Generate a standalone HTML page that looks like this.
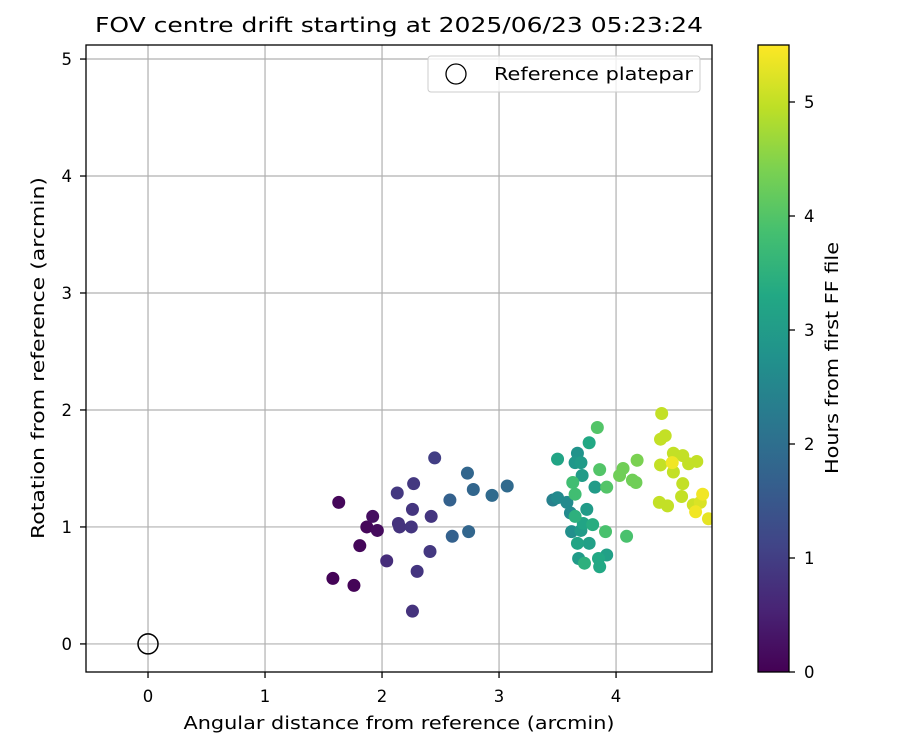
<!DOCTYPE html>
<html><head><meta charset="utf-8"><style>
body{margin:0;background:#fff;font-family:"Liberation Sans","DejaVu Sans",sans-serif;}
svg text{font-family:"DejaVu Sans","Liberation Sans",sans-serif;fill:#000;}
</style></head><body>
<svg id="chart" width="900" height="750" viewBox="0 0 900 750" xmlns="http://www.w3.org/2000/svg">
<defs>
<linearGradient id="vir" x1="0" y1="1" x2="0" y2="0">
<stop offset="0" stop-color="#440154"/><stop offset="0.1" stop-color="#482475"/><stop offset="0.2" stop-color="#414487"/><stop offset="0.3" stop-color="#355f8d"/><stop offset="0.4" stop-color="#2a788e"/><stop offset="0.5" stop-color="#21918c"/><stop offset="0.6" stop-color="#22a884"/><stop offset="0.7" stop-color="#44bf70"/><stop offset="0.8" stop-color="#7ad151"/><stop offset="0.9" stop-color="#bddf26"/><stop offset="1" stop-color="#fde725"/>
</linearGradient>
<clipPath id="plotclip"><rect x="86" y="45" width="626" height="627"/></clipPath>
</defs>
<text x="399" y="32" font-size="20.5" text-anchor="middle" textLength="608" lengthAdjust="spacingAndGlyphs">FOV centre drift starting at 2025/06/23 05:23:24</text>
<g id="grid"></g>
<g id="points" clip-path="url(#plotclip)"></g>
<rect x="86" y="45" width="626" height="627" fill="none" stroke="#000" stroke-width="1.3"/>
<g id="ticks"></g>
<text x="399" y="729" font-size="17.5" text-anchor="middle" textLength="431" lengthAdjust="spacingAndGlyphs">Angular distance from reference (arcmin)</text>
<text transform="translate(44,358) rotate(-90)" font-size="17.5" text-anchor="middle" textLength="362" lengthAdjust="spacingAndGlyphs">Rotation from reference (arcmin)</text>
<g>
<rect x="428" y="56" width="272" height="36" rx="3" fill="#fff" fill-opacity="0.8" stroke="#ccc"/>
<circle cx="456" cy="74" r="10" fill="none" stroke="#000" stroke-width="1.3"/>
<text x="494" y="80" font-size="17.5" textLength="199" lengthAdjust="spacingAndGlyphs">Reference platepar</text>
</g>
<rect x="758" y="45" width="31" height="627" fill="url(#vir)" stroke="#000" stroke-width="1.3"/>
<g id="cbticks"></g>
<text transform="translate(838,358) rotate(-90)" font-size="17.5" text-anchor="middle" textLength="232" lengthAdjust="spacingAndGlyphs">Hours from first FF file</text>
</svg>
<script>
const xs=[1.63,1.92,1.87,1.96,1.81,1.58,1.76,2.04,2.13,2.27,2.26,2.14,2.15,2.25,2.42,2.41,2.30,2.26,2.45,2.73,2.78,2.58,2.94,3.07,2.60,2.74,
4.39,3.84,3.77,4.42,4.38,3.50,3.67,3.65,3.70,3.71,3.86,4.06,4.03,4.18,4.14,4.17,3.63,3.65,3.82,3.92,4.49,4.57,4.69,4.62,4.48,4.38,4.49,4.57,4.56,4.74,4.37,4.44,4.66,4.72,4.68,4.79,3.46,3.50,3.58,3.61,3.75,3.65,3.72,3.80,3.62,3.70,3.91,4.09,3.67,3.77,3.68,3.73,3.92,3.85,3.86];
const ys=[1.21,1.09,1.00,0.97,0.84,0.56,0.50,0.71,1.29,1.37,1.15,1.03,1.00,1.00,1.09,0.79,0.62,0.28,1.59,1.46,1.32,1.23,1.27,1.35,0.92,0.96,
1.97,1.85,1.72,1.78,1.75,1.58,1.63,1.55,1.55,1.44,1.49,1.50,1.44,1.57,1.40,1.38,1.38,1.28,1.34,1.34,1.63,1.61,1.56,1.54,1.55,1.53,1.47,1.37,1.26,1.28,1.21,1.18,1.19,1.21,1.13,1.07,1.23,1.25,1.21,1.12,1.15,1.09,1.03,1.02,0.96,0.97,0.96,0.92,0.86,0.86,0.73,0.69,0.76,0.73,0.66];
const hours=[0.1,0.2,0.1,0.15,0.1,0.05,0.05,0.7,0.9,0.9,0.85,0.8,0.8,0.85,0.85,0.9,0.85,0.8,1.0,1.8,1.8,1.7,1.9,1.9,1.7,1.8,
5.0,4.0,3.3,5.0,5.0,3.2,2.8,2.9,3.0,3.0,4.0,4.3,4.3,4.4,4.3,4.3,3.8,3.8,3.0,4.0,5.0,5.0,5.0,5.0,5.4,5.0,5.0,5.0,5.0,5.4,5.0,5.0,5.1,5.2,5.4,5.3,2.4,2.6,2.6,2.6,3.0,3.5,3.2,3.4,2.7,3.0,3.9,3.9,3.2,3.1,3.0,3.5,3.1,3.3,3.3];
const xTicks=[0,1,2,3,4];
const yTicks=[0,1,2,3,4,5];
const cTicks=[0,1,2,3,4,5];
const refPoint=[0,0];
const X0=86,X1=712,Y0=45,Y1=672,xmin=-0.53,xmax=4.82,ymin=-0.24,ymax=5.12,cmax=5.5;
const sx=v=>X0+(v-xmin)/(xmax-xmin)*(X1-X0);
const sy=v=>Y1-(v-ymin)/(ymax-ymin)*(Y1-Y0);
const sc=v=>Y1-v/cmax*(Y1-Y0);
const NS="http://www.w3.org/2000/svg";
function mk(t,a){const e=document.createElementNS(NS,t);for(const k in a)e.setAttribute(k,a[k]);return e;}
const V=[[68,1,84],[72,36,117],[65,68,135],[53,95,141],[42,120,142],[33,145,140],[34,168,132],[68,191,112],[122,209,81],[189,223,38],[253,231,37]];
function vir(t){t=Math.max(0,Math.min(1,t))*10;const i=Math.min(9,Math.floor(t)),f=t-i;const c=V[i].map((v,k)=>Math.round(v+(V[i+1][k]-v)*f));return `rgb(${c})`;}
const grid=document.getElementById('grid'),ticks=document.getElementById('ticks'),pts=document.getElementById('points'),cb=document.getElementById('cbticks');
xTicks.forEach(v=>{const x=sx(v);
const g=mk('line',{x1:x,x2:x,y1:Y0,y2:Y1,stroke:'#b0b0b0','stroke-width':1.2});


grid.appendChild(g);
const t=mk('line',{x1:x,x2:x,y1:Y1,y2:Y1+6,stroke:'#000','stroke-width':1.3});


ticks.appendChild(t);
const l=mk('text',{x:x,y:Y1+30,'font-size':16.5,'text-anchor':'middle'});l.textContent=v;


ticks.appendChild(l);});
yTicks.forEach(v=>{const y=sy(v);
const g=mk('line',{x1:X0,x2:X1,y1:y,y2:y,stroke:'#b0b0b0','stroke-width':1.2});


grid.appendChild(g);
const t=mk('line',{x1:X0-6,x2:X0,y1:y,y2:y,stroke:'#000','stroke-width':1.3});


ticks.appendChild(t);
const l=mk('text',{x:X0-14,y:y+6,'font-size':16.5,'text-anchor':'end'});l.textContent=v;


ticks.appendChild(l);});
const idx=hours.map((h,i)=>i).sort((a,b)=>hours[a]-hours[b]);
idx.forEach(i=>{const c=mk('circle',{cx:sx(xs[i]),cy:sy(ys[i]),r:6.5,fill:vir(hours[i]/cmax)});


pts.appendChild(c);});
const rp=mk('circle',{cx:sx(refPoint[0]),cy:sy(refPoint[1]),r:10,fill:'none',stroke:'#000','stroke-width':1.5});


pts.appendChild(rp);
cTicks.forEach(v=>{const y=sc(v);
const t=mk('line',{x1:789,x2:795,y1:y,y2:y,stroke:'#000','stroke-width':1.3});


cb.appendChild(t);
const l=mk('text',{x:804,y:y+6,'font-size':16.5});l.textContent=v;


cb.appendChild(l);});
</script>
</body></html>
